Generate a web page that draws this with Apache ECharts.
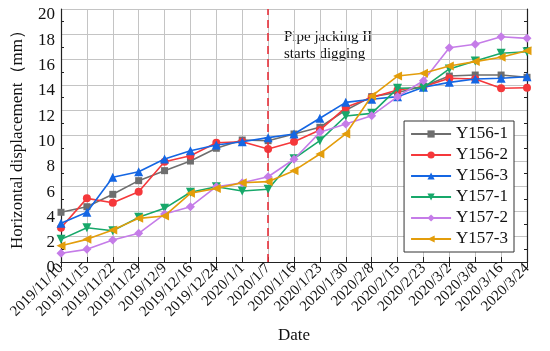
<!DOCTYPE html>
<html><head><meta charset="utf-8">
<script src="https://cdn.jsdelivr.net/npm/echarts@6/dist/echarts.min.js"></script>
<style>html,body{margin:0;padding:0;background:#fff}#c{width:550px;height:351px}</style>
</head><body><div id="c"></div>
<script>
const categories = ["2019/11/10","2019/11/15","2019/11/22","2019/11/29","2019/12/9","2019/12/16","2019/12/24","2020/1/1","2020/1/7","2020/1/16","2020/1/23","2020/1/30","2020/2/8","2020/2/15","2020/2/23","2020/3/2","2020/3/8","2020/3/16","2020/3/24"];
const Y156_1 = [3.93,4.37,5.35,6.43,7.22,7.98,8.99,9.64,9.59,10.12,10.65,12.0,13.07,13.4,13.9,14.7,14.78,14.78,14.6];
const Y156_2 = [2.71,5.03,4.69,5.56,7.93,8.4,9.43,9.51,8.93,9.51,10.43,12.23,13.0,13.6,13.86,14.52,14.47,13.73,13.78];
const Y156_3 = [3.06,3.93,6.7,7.14,8.14,8.8,9.25,9.51,9.83,10.12,11.36,12.62,12.86,13.07,13.81,14.2,14.47,14.52,14.65];
const Y157_1 = [1.79,2.71,2.47,3.53,4.24,5.51,5.95,5.61,5.75,8.17,9.59,11.54,11.75,13.73,13.78,15.26,15.89,16.5,16.62];
const Y157_2 = [0.69,1.0,1.74,2.27,3.79,4.37,5.95,6.27,6.74,8.12,10.25,10.91,11.57,13.07,14.33,16.94,17.21,17.81,17.68];
const Y157_3 = [1.29,1.79,2.53,3.45,3.64,5.43,5.82,6.27,6.35,7.22,8.54,10.12,13.12,14.7,14.92,15.49,15.84,16.18,16.7];
const seriesNames = ["Y156-1","Y156-2","Y156-3","Y157-1","Y157-2","Y157-3"];
const markerLine = "2020/1/7";
const annotation = ["Pipe jacking II","starts digging"];

const font = "'Liberation Serif','Times New Roman',serif";
const colors = ["#6e6e6e","#f5383b","#1466e3","#17a86a","#c57ce8","#e39d0b"];
const symbols = ["rect","circle","triangle","path://M0,0L10,0L5,9Z","diamond","path://M9,0L9,10L0,5Z"];
const sizes = [7,8,9,9,9,9];
const data = [Y156_1,Y156_2,Y156_3,Y157_1,Y157_2,Y157_3];

const chart = echarts.init(document.getElementById('c'));
const series = data.map((d,i)=>({
  name: seriesNames[i], type:'line', data:d, symbol:symbols[i], symbolSize:sizes[i],
  xAxisIndex:0, yAxisIndex:0,
  lineStyle:{color:colors[i],width:1.6}, itemStyle:{color:colors[i]}, z: 3+i
}));
series[0].markLine = {silent:true, symbol:'none', label:{show:false},
  lineStyle:{color:'#e8303a',type:[8,5],width:1.6}, data:[{xAxis:markerLine}]};
chart.setOption({
  animation:false,
  textStyle:{fontFamily:font},
  color: colors,
  grid:{left:61,right:23,top:9,bottom:89,containLabel:false,outerBoundsMode:'none'},
  legend:{orient:'vertical', right:36, top:121, itemWidth:40, itemHeight:9, itemGap:3,
    textStyle:{fontFamily:font,fontSize:17,color:'#111',lineHeight:18},
    backgroundColor:'#fff', borderColor:'#333', borderWidth:1, padding:[4,6,4,6],
    data:seriesNames},
  xAxis:[{type:'category', data:categories, boundaryGap:false,
    name:'Date', nameLocation:'middle', nameGap:64,
    nameTextStyle:{fontFamily:font,fontSize:17,color:'#111'},
    axisLine:{lineStyle:{color:'#222',width:1.2}},
    axisTick:{inside:true,length:5,alignWithLabel:true,lineStyle:{color:'#222'}},
    axisLabel:{rotate:45,fontFamily:font,fontSize:15,color:'#111',margin:4,interval:0},
    splitLine:{show:true,lineStyle:{color:'#c4c4c4',width:1}}},
   {type:'category', data:categories, boundaryGap:false, position:'top',
    axisLine:{lineStyle:{color:'#222',width:1.2}},
    axisTick:{inside:true,length:5,lineStyle:{color:'#222'}},
    axisLabel:{show:false}, splitLine:{show:false}}],
  yAxis:[{type:'value', min:0, max:20, interval:2,
    name:'Horizontal displacement（mm）', nameLocation:'middle', nameGap:35,
    nameTextStyle:{fontFamily:font,fontSize:17,color:'#111'},
    axisLine:{show:true,lineStyle:{color:'#222',width:1.2}},
    axisTick:{inside:true,length:5,lineStyle:{color:'#222'}},
    minorTick:{show:true,splitNumber:2,length:3,lineStyle:{color:'#222'}},
    axisLabel:{fontFamily:font,fontSize:17,color:'#111',margin:6,verticalAlign:'top',lineHeight:12},
    splitLine:{show:true,lineStyle:{color:'#c4c4c4',width:1}}},
   {type:'value', min:0, max:20, interval:2, position:'right',
    axisLine:{show:true,lineStyle:{color:'#222',width:1.2}},
    axisTick:{inside:true,length:5,lineStyle:{color:'#222'}},
    minorTick:{show:true,splitNumber:2,length:3,lineStyle:{color:'#222'}},
    axisLabel:{show:false}, splitLine:{show:false}}],
  graphic:[{type:'text', left:284, top:29, style:{text:annotation.join('\n'), font:'15px '+font, fill:'#111', lineHeight:17}}],
  series: series
});
</script></body></html>
